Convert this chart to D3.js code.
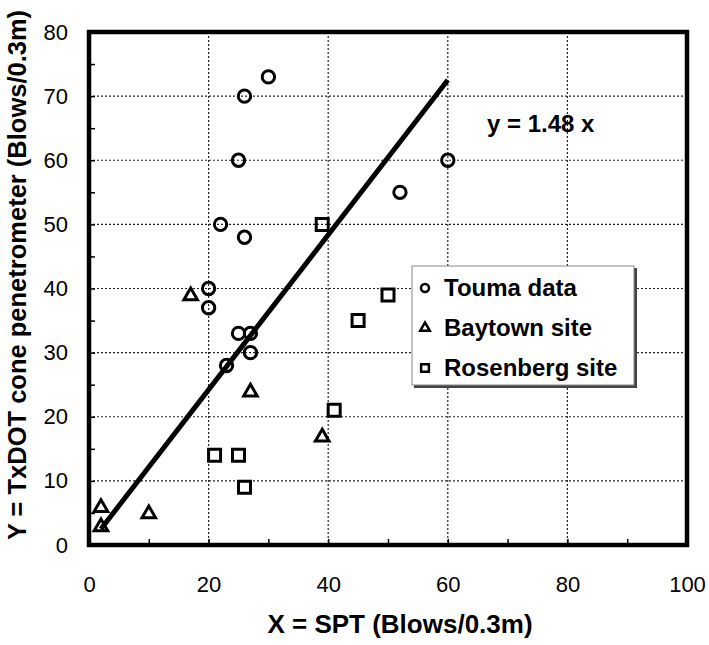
<!DOCTYPE html>
<meta charset="utf-8">
<html>
<head>
<script src="https://d3js.org/d3.v7.min.js"></script>
<style>
  body { margin: 0; background: #fff; }
  text { font-family: Arial, "Liberation Sans", sans-serif; fill: #000; }
</style>
</head>
<body>
<div id="my_dataviz"></div>
<script>
// data
const toumaX = [30, 26, 25, 22, 26, 20, 20, 25, 27, 27, 23, 60, 52];
const toumaY = [73, 70, 60, 50, 48, 40, 37, 33, 33, 30, 28, 60, 55];
const baytownX = [17, 27, 39, 2, 10, 2];
const baytownY = [39, 24, 17, 6, 5, 3];
const rosenX = [39, 41, 21, 25, 26, 45, 50];
const rosenY = [50, 21, 14, 14, 9, 35, 39];
const fitLineX = [2, 60];
const fitLineY = [2.5, 72.5];
const xTicks = [0, 20, 40, 60, 80, 100];
const yTicks = [0, 10, 20, 30, 40, 50, 60, 70, 80];
const legendLabels = ["Touma data", "Baytown site", "Rosenberg site"];

const W = 709, H = 645;
const margin = {top: 32, right: 22, bottom: 100, left: 89};
const width = W - margin.left - margin.right,
      height = H - margin.top - margin.bottom;

const svg = d3.select("#my_dataviz")
  .append("svg")
    .attr("width", W)
    .attr("height", H)
  .append("g")
    .attr("transform", `translate(${margin.left},${margin.top})`);

const x = d3.scaleLinear().domain([0, 100]).range([0, width]);
const y = d3.scaleLinear().domain([0, 80]).range([height, 0]);

// dotted grid
svg.append("g")
  .selectAll("line")
  .data(yTicks.slice(1, -1))
  .join("line")
    .attr("x1", 0).attr("x2", width)
    .attr("y1", d => y(d)).attr("y2", d => y(d))
    .attr("stroke", "#222").attr("stroke-width", 1.2)
    .attr("stroke-dasharray", "2,2");
svg.append("g")
  .selectAll("line")
  .data(xTicks.slice(1, -1))
  .join("line")
    .attr("y1", 0).attr("y2", height)
    .attr("x1", d => x(d)).attr("x2", d => x(d))
    .attr("stroke", "#222").attr("stroke-width", 1.2)
    .attr("stroke-dasharray", "2,2");

// axes: tick labels + small inside minor ticks
const yAxis = svg.append("g")
  .call(d3.axisLeft(y).tickValues(d3.range(0, 81, 5)).tickSize(-6).tickPadding(21)
    .tickFormat(d => yTicks.includes(d) ? d : ""));
const xAxis = svg.append("g")
  .attr("transform", `translate(0,${height})`)
  .call(d3.axisBottom(x).tickValues(d3.range(0, 101, 10)).tickSize(-6).tickPadding(31)
    .tickFormat(d => xTicks.includes(d) ? d : ""));
[xAxis, yAxis].forEach(a => {
  a.select(".domain").remove();
  a.selectAll(".tick line").attr("stroke", "#000").attr("stroke-width", 1.5);
  a.selectAll("text").style("font-size", "22px").style("font-family", "Arial, 'Liberation Sans', sans-serif");
});

// frame
svg.append("rect")
  .attr("x", 0).attr("y", 0)
  .attr("width", width).attr("height", height)
  .attr("fill", "none").attr("stroke", "#000").attr("stroke-width", 4.5);

// fitted line
svg.append("path")
  .datum(fitLineX.map((d, i) => [d, fitLineY[i]]))
  .attr("fill", "none")
  .attr("stroke", "#000")
  .attr("stroke-width", 5)
  .attr("d", d3.line().x(d => x(d[0])).y(d => y(d[1])));

svg.append("text")
  .attr("x", 487 - margin.left).attr("y", 132 - margin.top)
  .style("font-size", "24px").style("font-weight", "bold")
  .text("y = 1.48 x");

// markers
const circ = d3.symbol().type(d3.symbolCircle);
const tri = d3.symbol().type(d3.symbolTriangle);
const sq = d3.symbol().type(d3.symbolSquare);

svg.append("g").selectAll("path")
  .data(toumaX.map((d, i) => [d, toumaY[i]]))
  .join("path")
    .attr("transform", d => `translate(${x(d[0])},${y(d[1])})`)
    .attr("d", circ.size(120))
    .attr("fill", "none").attr("stroke", "#000").attr("stroke-width", 3);

svg.append("g").selectAll("path")
  .data(baytownX.map((d, i) => [d, baytownY[i]]))
  .join("path")
    .attr("transform", d => `translate(${x(d[0])},${y(d[1]) + 1})`)
    .attr("d", tri.size(80))
    .attr("fill", "none").attr("stroke", "#000").attr("stroke-width", 3)
    .attr("stroke-linejoin", "miter");

svg.append("g").selectAll("path")
  .data(rosenX.map((d, i) => [d, rosenY[i]]))
  .join("path")
    .attr("transform", d => `translate(${x(d[0])},${y(d[1])})`)
    .attr("d", sq.size(144))
    .attr("fill", "none").attr("stroke", "#000").attr("stroke-width", 3);

// legend
const lg = svg.append("g").attr("transform", `translate(${412 - margin.left},${266 - margin.top})`);
lg.append("rect").attr("x", 2).attr("y", 2).attr("width", 223).attr("height", 120).attr("fill", "#444");
lg.append("rect").attr("width", 222).attr("height", 119)
  .attr("fill", "#fff").attr("stroke", "#888").attr("stroke-width", 1);
const shapes = [circ.size(50), tri.size(40), sq.size(60)];
legendLabels.forEach((t, i) => {
  const cy = 22 + i * 40;
  lg.append("path")
    .attr("transform", `translate(13,${cy})`)
    .attr("d", shapes[i])
    .attr("fill", "none").attr("stroke", "#000").attr("stroke-width", 2.5);
  lg.append("text")
    .attr("x", 32).attr("y", cy + 8)
    .style("font-size", "24px").style("font-weight", "bold")
    .text(t);
});

// axis titles
svg.append("text")
  .attr("text-anchor", "middle")
  .attr("x", 400 - margin.left).attr("y", 633 - margin.top)
  .style("font-size", "26px").style("font-weight", "bold")
  .text("X = SPT (Blows/0.3m)");
svg.append("text")
  .attr("text-anchor", "middle")
  .attr("transform", `translate(${26 - margin.left},${275 - margin.top}) rotate(-90)`)
  .style("font-size", "25.5px").style("font-weight", "bold")
  .text("Y = TxDOT cone penetrometer (Blows/0.3m)");
</script>
</body>
</html>
